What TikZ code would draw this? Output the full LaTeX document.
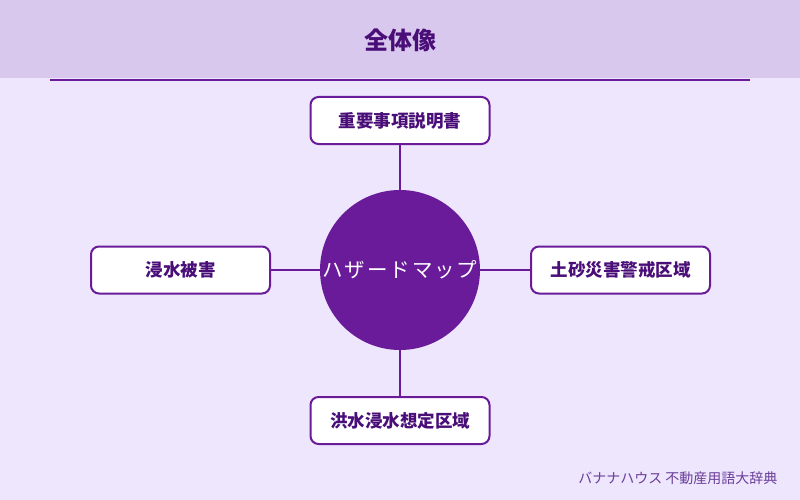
\documentclass[tikz,border=0pt]{standalone}
\usepackage{fontspec}
\setmainfont{Noto Sans CJK JP}
\newfontfamily\cjk{Noto Sans CJK JP}
\definecolor{bgc}{HTML}{EDE6FD}
\definecolor{hdr}{HTML}{D9C8EE}
\definecolor{pur}{HTML}{6A1B9A}
\definecolor{dpur}{HTML}{4A0E78}
\definecolor{foot}{HTML}{6A3D9A}
\begin{document}
\begin{tikzpicture}[x=1pt,y=-1pt,
  box/.style={draw=pur,line width=2pt,fill=white,rounded corners=8pt,minimum width=179pt,minimum height=47pt,inner sep=0pt,font=\cjk\bfseries\fontsize{17.5}{20}\selectfont,text=dpur},
  conn/.style={draw=pur,line width=2pt}]
\useasboundingbox (0,0) rectangle (800,500);
\fill[bgc] (0,0) rectangle (800,500);
\fill[hdr] (0,0) rectangle (800,78);
\draw[pur,line width=2pt] (50,80) -- (750,80);
\node[font=\cjk\bfseries\fontsize{24}{28}\selectfont,text=dpur] (title) at (400,40) {全体像};
\node[circle,fill=pur,minimum size=160pt,inner sep=0pt] (hub) at (400,270) {};
\node[box] (top) at (400,120.5) {重要事項説明書};
\node[box] (left) at (180.5,270) {浸水被害};
\node[box] (right) at (620.5,270) {土砂災害警戒区域};
\node[box] (bot) at (400,420.5) {洪水浸水想定区域};
\draw[conn] (top) -- (hub);
\draw[conn] (left) -- (hub);
\draw[conn] (right) -- (hub);
\draw[conn] (bot) -- (hub);
\node[text=white,font=\cjk\fontsize{20.5}{24}\selectfont] (hubtext) at (400,270) {ハ\kern1.9ptザ\kern1.9ptー\kern1.9ptド\kern1.9ptマ\kern1.9ptッ\kern1.9ptプ};
\node[anchor=east,text=foot,font=\cjk\fontsize{14}{16}\selectfont] (footer) at (781,478) {バナナハウス 不動産用語大辞典};
\end{tikzpicture}
\end{document}
